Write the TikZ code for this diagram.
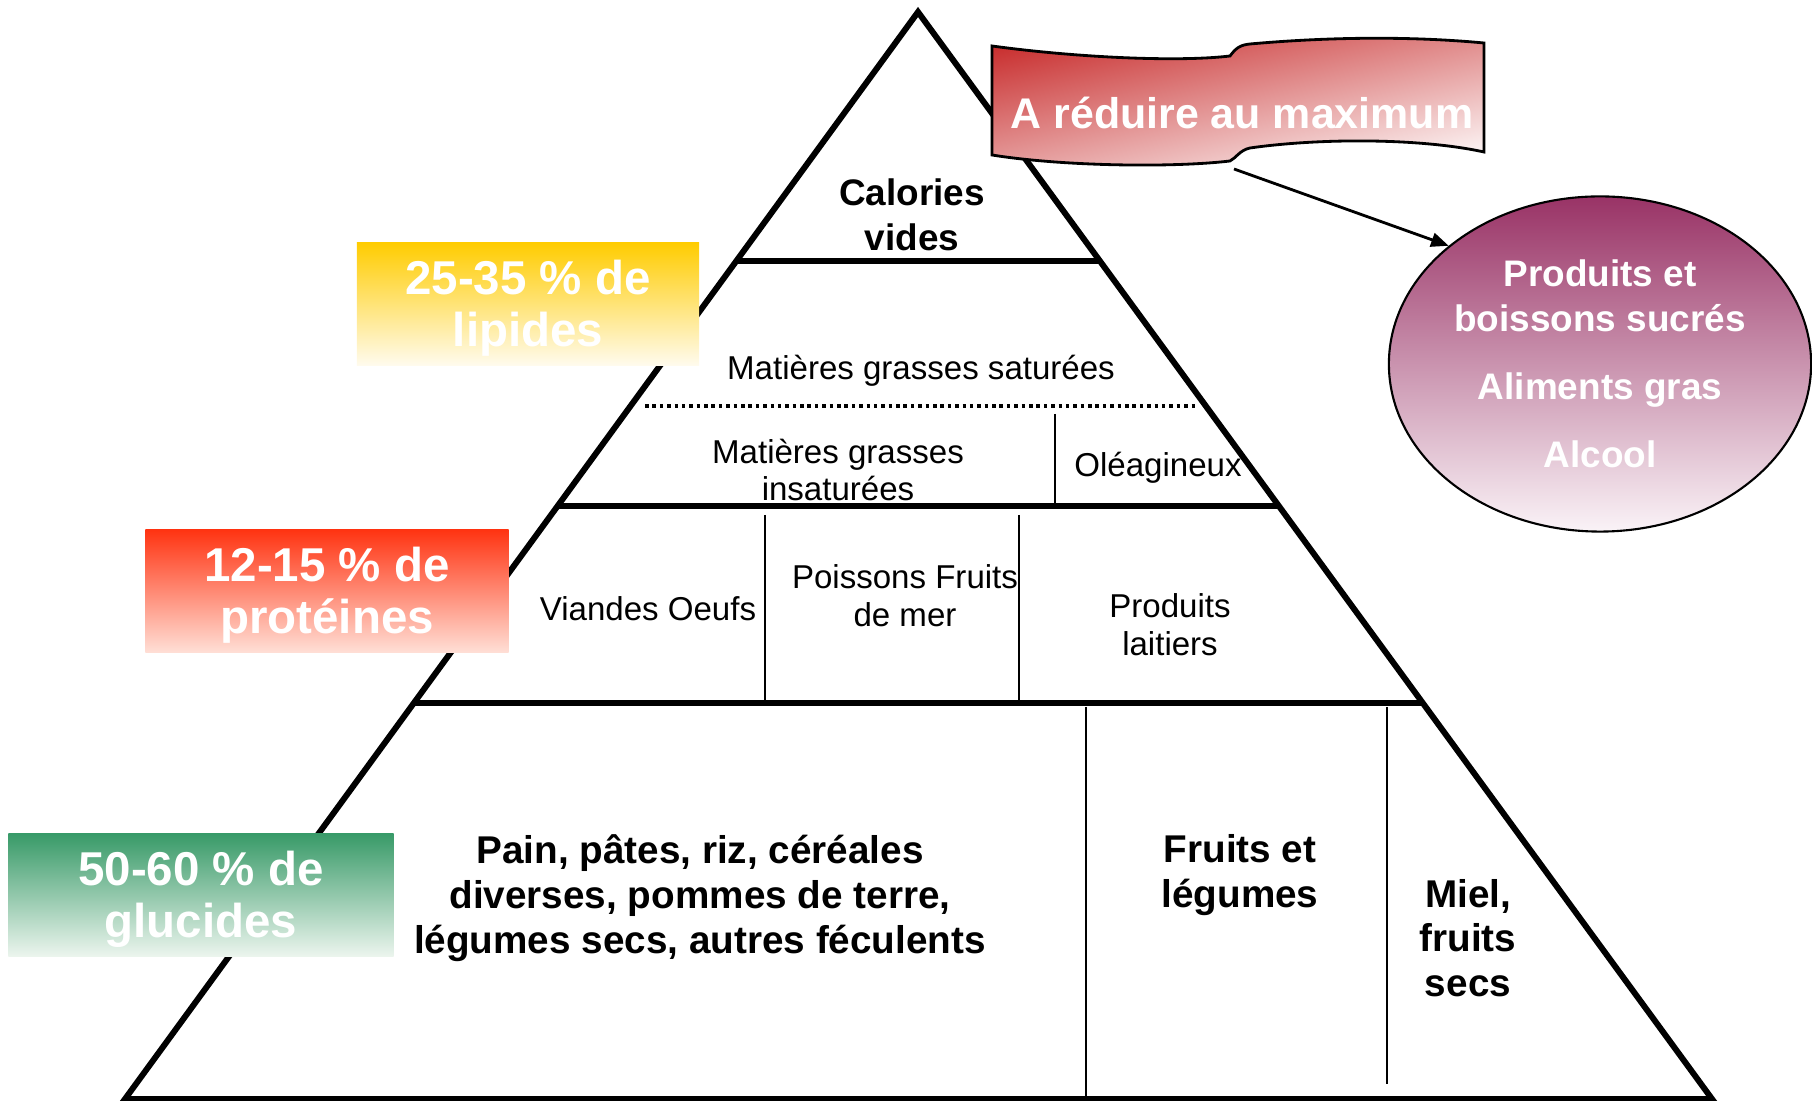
\documentclass[tikz,border=0pt]{standalone}
\usepackage{fontspec}
\setmainfont{Liberation Sans}
\usetikzlibrary{shapes.geometric,arrows.meta}

\definecolor{lipidgold}{RGB}{255,204,0}
\definecolor{lipidpale}{RGB}{255,251,238}
\definecolor{protred}{RGB}{255,51,17}
\definecolor{protpale}{RGB}{255,223,214}
\definecolor{glucgreen}{RGB}{56,154,104}
\definecolor{glucpale}{RGB}{236,245,238}
\definecolor{bannerred}{RGB}{200,45,45}
\definecolor{bannerpale}{RGB}{253,248,248}
\definecolor{plum}{RGB}{153,51,102}
\definecolor{plumpale}{RGB}{250,243,247}

\newcommand{\pctstrut}{\rule{0pt}{12.4pt}}

\begin{document}
\begin{tikzpicture}[x=0.01cm, y=-0.01cm,
	rim/.style={line width=1.7pt},
	divider/.style={line width=0.6pt},
	pctbox/.style={rectangle, inner sep=0pt, text=white, align=center, minimum height=1.23cm, font=\bfseries\fontsize{13.5}{14.8}\selectfont},
	foodbold/.style={align=center, font=\bfseries\fontsize{11}{12.7}\selectfont},
	foodtxt/.style={align=center, font=\fontsize{9.4}{10.8}\selectfont}]
	\useasboundingbox (0,0) rectangle (1812,1101);
	% pyramid
	\draw[rim, line join=miter] (918,12) -- (125,1099) -- (1712,1099) -- cycle;
	\draw[rim] (737,261) -- (1100,261);
	\draw[line width=1pt, dash pattern=on 1pt off 1.1pt] (645,406) -- (1196,406);
	\draw[rim] (558,506) -- (1279,506);
	\draw[rim] (414,703) -- (1423,703);
	\draw[divider] (1055,414) -- (1055,506);
	\draw[divider] (765,515) -- (765,703);
	\draw[divider] (1019,515) -- (1019,703);
	\draw[divider] (1086,707) -- (1086,1099);
	\draw[divider] (1387,707) -- (1387,1084);
	% food groups
	\node[foodbold, font=\bfseries\fontsize{10.5}{12.8}\selectfont] (empty) at (912,215) {Calories\\vides};
	\node[foodtxt] (satfat) at (921,371) {Matières grasses saturées};
	\node[foodtxt] (unsatfat) at (838,470) {Matières grasses\\insaturées};
	\node[foodtxt] (nuts) at (1158,468) {Oléagineux};
	\node[foodtxt] (meat) at (648,609) {Viandes Oeufs};
	\node[foodtxt] (fish) at (905,596) {Poissons Fruits\\de mer};
	\node[foodtxt] (dairy) at (1170,625) {Produits\\laitiers};
	\node[foodbold] (starch) at (700,898) {Pain, pâtes, riz, céréales\\diverses, pommes de terre,\\légumes secs, autres féculents};
	\node[foodbold] (veg) at (1240,875) {Fruits et\\légumes};
	\node[foodbold] (honey) at (1468,938) {Miel,\\fruits\\secs};
	% shares
	\node[pctbox, minimum width=3.42cm, top color=lipidgold, bottom color=lipidpale] (lipids) at (528,304) {\pctstrut 25-35 \% de\\lipides};
	\node[pctbox, minimum width=3.63cm, top color=protred, bottom color=protpale] (proteins) at (327,591) {\pctstrut 12-15 \% de\\protéines};
	\node[pctbox, minimum width=3.85cm, top color=glucgreen, bottom color=glucpale] (carbs) at (201,895) {\pctstrut 50-60 \% de\\glucides};
	% banner
	\begin{scope}
		\clip (992,46) .. controls (1080,58) and (1180,62) .. (1230,56)
			.. controls (1236,48) and (1240,45) .. (1250,44)
			.. controls (1340,36) and (1420,37) .. (1484,43) -- (1484,152)
			.. controls (1420,138) and (1320,138) .. (1250,148)
			.. controls (1240,150) and (1236,158) .. (1230,161)
			.. controls (1170,168) and (1060,166) .. (992,155) -- cycle;
		\shade[transform canvas={rotate around={12.6:(1238,101)}}, top color=bannerred, bottom color=bannerpale] (966,-7) rectangle (1510,209);
	\end{scope}
	\draw[line width=0.8pt]
		(992,46) .. controls (1080,58) and (1180,62) .. (1230,56)
		.. controls (1236,48) and (1240,45) .. (1250,44)
		.. controls (1340,36) and (1420,37) .. (1484,43) -- (1484,152)
		.. controls (1420,138) and (1320,138) .. (1250,148)
		.. controls (1240,150) and (1236,158) .. (1230,161)
		.. controls (1170,168) and (1060,166) .. (992,155) -- cycle;
	\node[text=white, font=\bfseries\fontsize{12.2}{14}\selectfont] (reduce) at (1242,113) {A réduire au maximum};
	% to limit
	\node[ellipse, draw, line width=0.6pt, top color=plum, bottom color=plumpale, minimum width=4.22cm, minimum height=3.35cm, inner sep=0pt, text=white, align=center, font=\bfseries\fontsize{10.5}{12.8}\selectfont] (sweets) at (1600,364) {Produits et\\boissons sucrés\\[6.5pt]Aliments gras\\[6.5pt]Alcool};
	\coordinate (arrowtail) at (1234,169);
	\draw[line width=0.8pt, -{Triangle[length=5pt, width=4pt]}] (arrowtail) -- (sweets.142);
\end{tikzpicture}
\end{document}
